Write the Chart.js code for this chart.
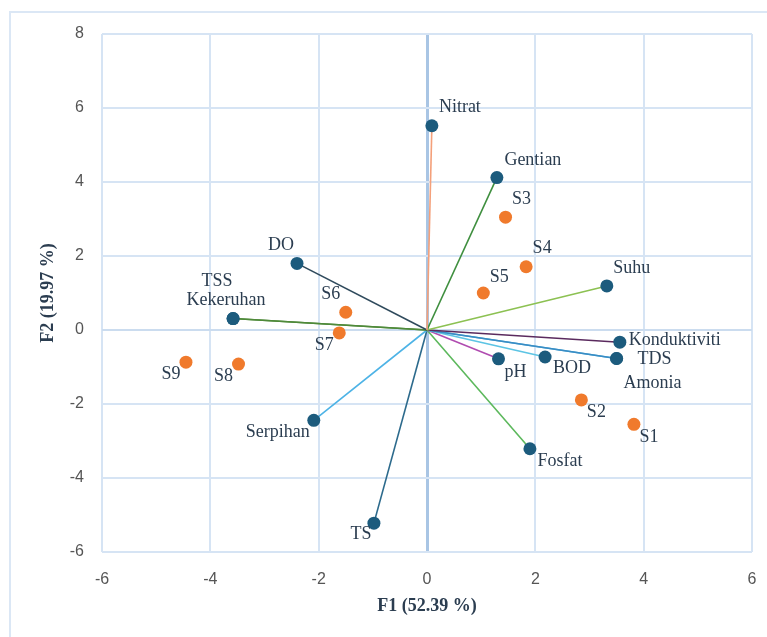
<!DOCTYPE html>
<html>
<head>
<meta charset="utf-8">
<title>PCA biplot</title>
<script src="https://cdn.jsdelivr.net/npm/chart.js@4.4.1/dist/chart.umd.min.js"></script>
<style>
  body { margin: 0; background: #fff; }
  #wrap { position: relative; width: 767px; height: 637px; overflow: hidden; }
  #frame {
    position: absolute; left: 9px; top: 11px; right: -4px; bottom: -4px;
    border-left: 2px solid #dbe7f5; border-top: 2px solid #dbe7f5;
  }
  canvas { position: absolute; left: 0; top: 0; }
</style>
</head>
<body>
<div id="wrap">
  <div id="frame"></div>
  <canvas id="biplot" width="767" height="637"></canvas>
</div>
<script>
// variable loadings (F1, F2)
const variables = ['Nitrat', 'Gentian', 'DO', 'TSS', 'Kekeruhan', 'Suhu', 'Konduktiviti',
  'TDS', 'Amonia', 'BOD', 'pH', 'Fosfat', 'Serpihan', 'TS'];
const varF1 = [0.09, 1.29, -2.40, -3.58, -3.58, 3.32, 3.56, 3.50, 3.50, 2.18, 1.32, 1.90, -2.09, -0.98];
const varF2 = [5.52, 4.12, 1.80, 0.31, 0.31, 1.19, -0.33, -0.77, -0.77, -0.73, -0.78, -3.21, -2.44, -5.22];

// site scores (F1, F2)
const sites = ['S1', 'S2', 'S3', 'S4', 'S5', 'S6', 'S7', 'S8', 'S9'];
const siteF1 = [3.82, 2.85, 1.45, 1.83, 1.04, -1.50, -1.62, -3.48, -4.45];
const siteF2 = [-2.55, -1.89, 3.05, 1.71, 1.00, 0.48, -0.08, -0.92, -0.87];

const xTicks = [-6, -4, -2, 0, 2, 4, 6];
const yTicks = [-6, -4, -2, 0, 2, 4, 6, 8];

// styling
const vectorColors = ['#f4a07a', '#3f8f3f', '#2f4a5c', '#4f8a3a', '#4f8a3a', '#8cc152', '#5a2a5e',
  '#3a8cc4', '#4aaedc', '#5cc4e4', '#b04cb0', '#5cb85c', '#4db3e6', '#2c6a8c'];
const varColor = '#1c5b7d';
const siteColor = '#f07a2c';
const labelColor = '#2b3d50';
const gridColor = '#d6e4f4';

// label offsets from the point (px): [dx of text centre, dy of text centre]
const varLabelOffset = [[28, -18], [36, -17], [-16, -18], [-16, -37], [-7, -18], [25, -18], [55, -2],
  [38, 1], [36, 25], [27, 11], [17, 13], [30, 12], [-36, 12], [-13, 11]];
const siteLabelOffset = [[15, 13], [15, 12], [16, -18], [16, -18], [16, -16], [-15, -18], [-15, 12],
  [-15, 12], [-15, 12]];

const vectorSets = variables.map((name, i) => ({
  label: name,
  data: [{ x: 0, y: 0 }, { x: varF1[i], y: varF2[i] }],
  showLine: true,
  borderColor: vectorColors[i],
  borderWidth: 1.6,
  pointRadius: 0,
  order: 3
}));

const pointLabels = {
  id: 'pointLabels',
  afterDatasetsDraw(chart) {
    const { ctx } = chart;
    const xs = chart.scales.x, ys = chart.scales.y;
    ctx.save();
    ctx.font = '18px "Liberation Serif", "Times New Roman", serif';
    ctx.fillStyle = labelColor;
    ctx.textAlign = 'center';
    ctx.textBaseline = 'middle';
    variables.forEach((name, i) => {
      const [dx, dy] = varLabelOffset[i];
      ctx.fillText(name, xs.getPixelForValue(varF1[i]) + dx, ys.getPixelForValue(varF2[i]) + dy);
    });
    sites.forEach((name, i) => {
      const [dx, dy] = siteLabelOffset[i];
      ctx.fillText(name, xs.getPixelForValue(siteF1[i]) + dx, ys.getPixelForValue(siteF2[i]) + dy);
    });
    ctx.restore();
  }
};

const tickFont = { family: '"Liberation Sans", Arial, sans-serif', size: 16 };
const titleFont = { family: '"Liberation Serif", "Times New Roman", serif', size: 18, weight: 'bold' };

new Chart(document.getElementById('biplot'), {
  type: 'scatter',
  data: {
    datasets: [
      {
        label: 'Variabel',
        data: variables.map((v, i) => ({ x: varF1[i], y: varF2[i] })),
        backgroundColor: varColor,
        borderWidth: 0,
        pointRadius: 6.5,
        order: 1
      },
      {
        label: 'Stesen',
        data: sites.map((s, i) => ({ x: siteF1[i], y: siteF2[i] })),
        backgroundColor: siteColor,
        borderWidth: 0,
        pointRadius: 6.5,
        order: 2
      },
      ...vectorSets
    ]
  },
  options: {
    responsive: false,
    animation: false,
    events: [],
    layout: { padding: { left: 0, right: 15, top: 34, bottom: 0 } },
    plugins: {
      legend: { display: false },
      tooltip: { enabled: false }
    },
    scales: {
      x: {
        type: 'linear',
        min: -6, max: 6,
        afterBuildTicks: s => { s.ticks = xTicks.map(v => ({ value: v })); },
        afterFit: s => { s.height = 85; },
        ticks: { color: '#555', font: tickFont, padding: 6 },
        grid: {
          drawTicks: true,
          tickLength: 12,
          tickColor: 'rgba(0,0,0,0)',
          color: c => c.tick && c.tick.value === 0 ? '#a9c5e4' : gridColor,
          lineWidth: c => c.tick && c.tick.value === 0 ? 3 : 2
        },
        border: { display: false },
        title: { display: true, text: 'F1 (52.39 %)', color: labelColor, font: titleFont, padding: { bottom: 20 } }
      },
      y: {
        type: 'linear',
        min: -6, max: 8,
        afterBuildTicks: s => { s.ticks = yTicks.map(v => ({ value: v })); },
        afterFit: s => { s.width = 102; },
        ticks: { color: '#555', font: tickFont, padding: 18 },
        grid: {
          drawTicks: false,
          color: c => c.tick && c.tick.value === 0 ? '#cbdcef' : gridColor,
          lineWidth: 2
        },
        border: { display: false },
        title: { display: true, text: 'F2 (19.97 %)', color: labelColor, font: titleFont, padding: { top: 38 } }
      }
    }
  },
  plugins: [pointLabels]
});
</script>
</body>
</html>
